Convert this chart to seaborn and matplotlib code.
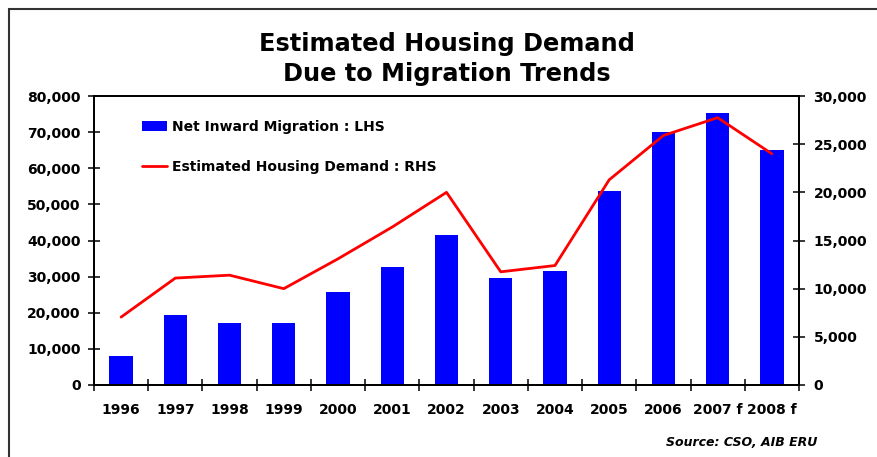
import matplotlib
matplotlib.use("Agg")
import matplotlib.pyplot as plt
from matplotlib.patches import Rectangle
from matplotlib.ticker import FuncFormatter, MultipleLocator, FixedLocator
import numpy as np
import pandas as pd
import seaborn as sns

years = ["1996", "1997", "1998", "1999", "2000", "2001", "2002",
         "2003", "2004", "2005", "2006", "2007 f", "2008 f"]
net_inward_migration = [8000, 19400, 17200, 17200, 25800, 32600, 41500,
                        29600, 31500, 53700, 70000, 75300, 65000]
housing_demand = [7050, 11100, 11400, 10000, 13100, 16400, 20000,
                  11750, 12400, 21300, 25900, 27750, 24000]

bar_label = "Net Inward Migration : LHS"
line_label = "Estimated Housing Demand : RHS"

sns.set_style("white")
plt.rcParams["font.family"] = ["DejaVu Sans"]
plt.rcParams["font.weight"] = "bold"
plt.rcParams["text.color"] = "black"
plt.rcParams["xtick.labelcolor"] = "black"
plt.rcParams["ytick.labelcolor"] = "black"

df = pd.DataFrame({"year": years,
                   "migration": net_inward_migration,
                   "demand": housing_demand})
df["pos"] = np.arange(len(years))

fig = plt.figure(figsize=(8.77, 4.57), dpi=100)
ax = fig.add_axes([94 / 877, 1 - 385 / 457, (799 - 94) / 877, (385 - 96) / 457])

sns.barplot(data=df, x="year", y="migration", color="#0000FF", saturation=1,
            width=0.43, ax=ax, label=bar_label, edgecolor="none")
if ax.get_legend() is not None:
    ax.get_legend().remove()
ax.set_xlim(-0.5, len(years) - 0.5)
ax.set_ylim(0, 80000)

ax2 = ax.twinx()
sns.lineplot(data=df, x="pos", y="demand", color="#FF0000", linewidth=2,
             ax=ax2, label=line_label, legend=False)
ax2.set_ylim(0, 30000)
ax.set_xlim(-0.5, len(years) - 0.5)

thousands = FuncFormatter(lambda v, p: f"{int(v):,}")
ax.yaxis.set_major_locator(MultipleLocator(10000))
ax.yaxis.set_major_formatter(thousands)
ax2.yaxis.set_major_locator(MultipleLocator(5000))
ax2.yaxis.set_major_formatter(thousands)

for a in (ax, ax2):
    for s in a.spines.values():
        s.set_visible(True)
        s.set_color("black")
        s.set_linewidth(1.3)
    a.set_xlabel("")
    a.set_ylabel("")

tick_font = dict(labelsize=10)
ax.tick_params(axis="y", direction="inout", length=9, width=1.1, pad=5,
               color="black", labelcolor="black", left=True, **tick_font)
ax2.tick_params(axis="y", direction="inout", length=9, width=1.1, pad=6,
                color="black", labelcolor="black", right=True, **tick_font)
ax.tick_params(axis="x", which="major", length=0, pad=13, labelcolor="black",
               **tick_font)
ax.xaxis.set_minor_locator(FixedLocator(np.arange(-0.5, len(years), 1.0)))
ax.tick_params(axis="x", which="minor", direction="inout", length=9, width=1.1,
               color="black", bottom=True)
for lbl in ax.get_xticklabels() + ax.get_yticklabels() + ax2.get_yticklabels():
    lbl.set_fontweight("bold")

h1, l1 = ax.get_legend_handles_labels()
h2, l2 = ax2.get_legend_handles_labels()
leg = ax2.legend(h1 + h2, l1 + l2, loc="upper left",
                 bbox_to_anchor=(0.05, 0.96), frameon=False,
                 prop={"weight": "bold", "size": 10},
                 handlelength=1.8, handletextpad=0.35, labelspacing=1.85)

fig.text(446.5 / 877, 1 - 32 / 457,
         "Estimated Housing Demand\nDue to Migration Trends",
         ha="center", va="top", fontsize=17.3, fontweight="bold",
         linespacing=1.32)

fig.text(817 / 877, 1 - 443 / 457, "Source: CSO, AIB ERU",
         ha="right", va="center", fontsize=9, fontweight="bold",
         fontstyle="italic")

fig.patches.append(Rectangle((9 / 877, -0.2), 2.0, 1.2 - 9 / 457,
                             transform=fig.transFigure, fill=False,
                             edgecolor="#333333", linewidth=1.5))

fig.savefig("out.png", dpi=100)
